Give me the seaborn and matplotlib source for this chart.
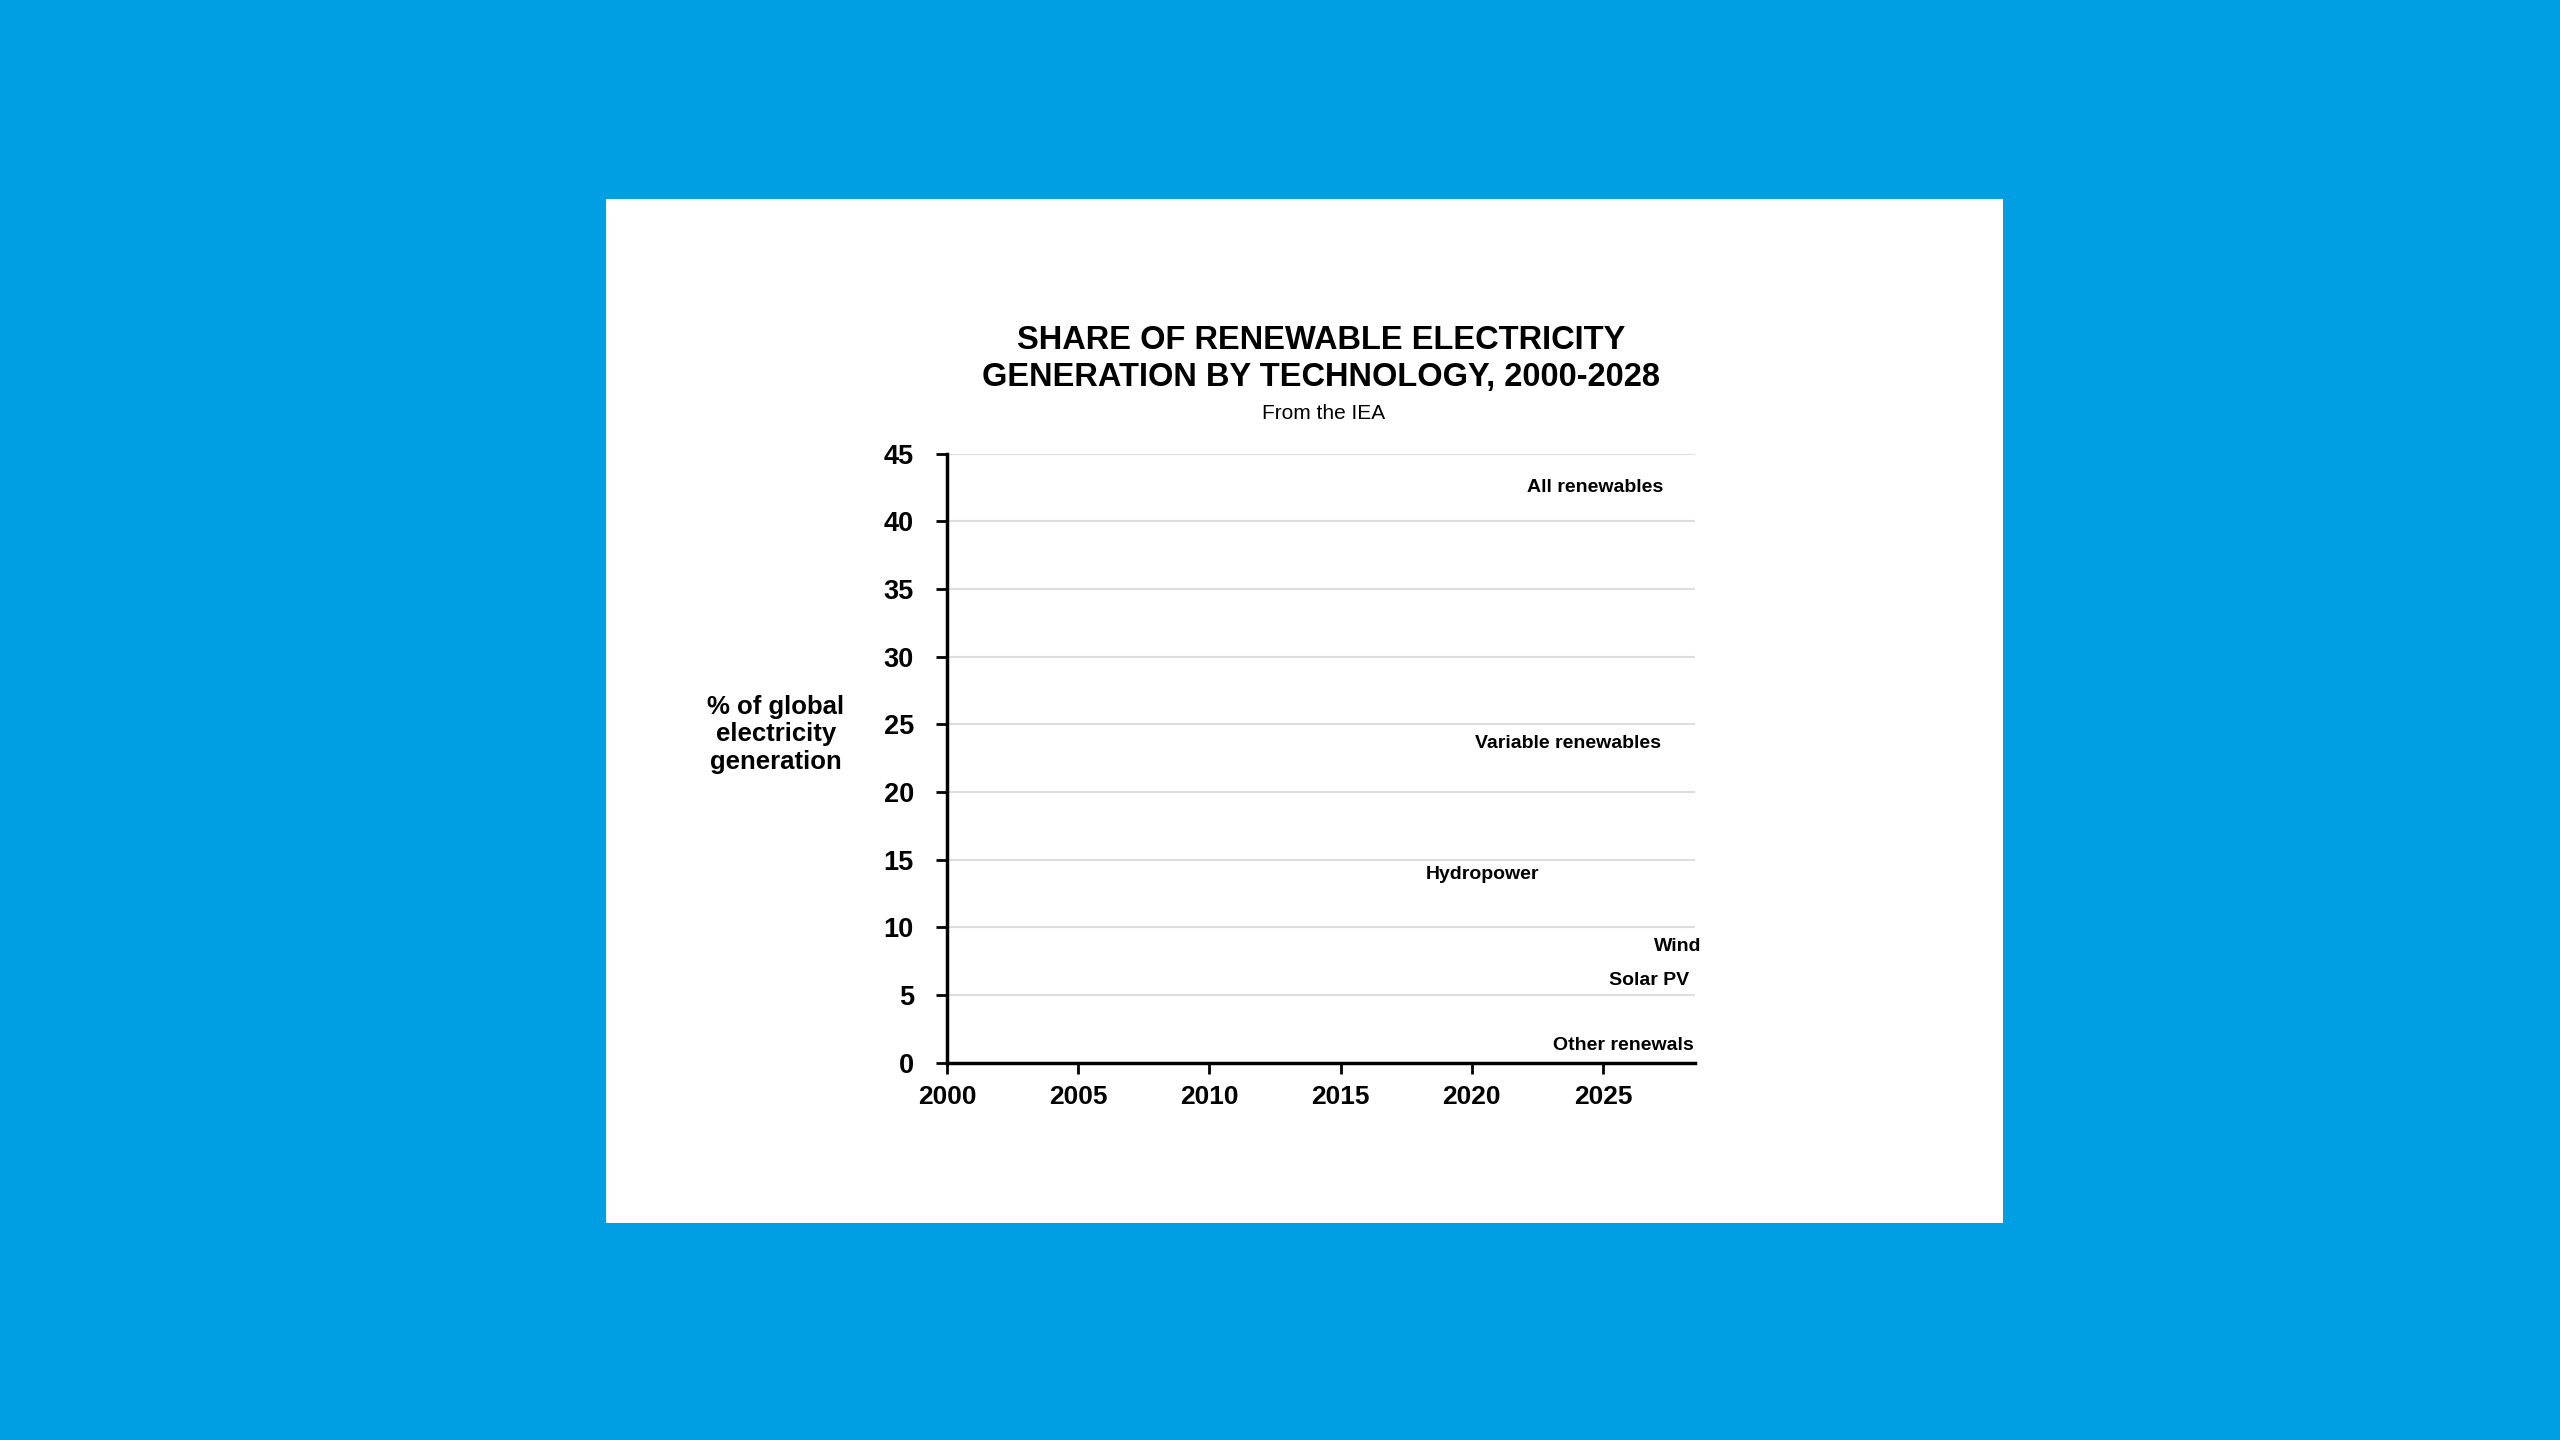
import numpy as np
import pandas as pd
import seaborn as sns
import matplotlib.pyplot as plt
from matplotlib.patches import Rectangle

# chart frame shown before the lines are drawn: only axes and end labels
years = [2000, 2005, 2010, 2015, 2020, 2025]
pct_ticks = [0, 5, 10, 15, 20, 25, 30, 35, 40, 45]

series_names = ['All renewables', 'Variable renewables', 'Hydropower',
                'Wind', 'Solar PV', 'Other renewals']
label_year = [2027.3, 2027.2, 2022.6, 2028.75, 2028.3, 2028.45]
label_pct = [42.5, 23.6, 13.9, 8.6, 6.1, 1.3]

title = 'SHARE OF RENEWABLE ELECTRICITY\nGENERATION BY TECHNOLOGY, 2000-2028'
subtitle = 'From the IEA'

sns.set_style('white')
plt.rcParams['font.family'] = ['Liberation Sans', 'DejaVu Sans']
plt.rcParams['text.color'] = 'black'
plt.rcParams['xtick.color'] = 'black'
plt.rcParams['ytick.color'] = 'black'
plt.rcParams['axes.labelcolor'] = 'black'

blue = '#009EE2'
fig = plt.figure(figsize=(25.6, 14.4), dpi=100)
fig.patch.set_facecolor(blue)
fig.patches.append(Rectangle((0.2367, 0.1507), 0.5457, 0.711,
                             transform=fig.transFigure, facecolor='white',
                             edgecolor='none', zorder=-5))

ax = fig.add_axes([0.370, 0.262, 0.292, 0.423])
ax.set_zorder(3)
ax.set_facecolor('none')

labels = pd.DataFrame({'name': series_names, 'year': label_year, 'pct': label_pct})

ax.set_xlim(2000, 2028.5)
ax.set_ylim(0, 45)
ax.set_xticks(years)
ax.set_yticks(pct_ticks)
ax.set_xticklabels([str(y) for y in years], fontsize=19, fontweight='bold')
ax.set_yticklabels([str(p) for p in pct_ticks], fontsize=19.5, fontweight='bold')
ax.tick_params(axis='both', direction='out', length=8, width=2, color='black')
ax.tick_params(axis='x', bottom=True, pad=8)
ax.tick_params(axis='y', left=True, pad=16)
ax.grid(axis='y', color='#dddddd', linewidth=1.5)
ax.grid(axis='x', visible=False)
sns.despine(ax=ax)
for side in ['left', 'bottom']:
    ax.spines[side].set_color('black')
    ax.spines[side].set_linewidth(2.5)

for _, row in labels.iterrows():
    ha = 'center' if row['name'] == 'Hydropower' else 'right'
    x = 2020.4 if row['name'] == 'Hydropower' else row['year']
    ax.text(x, row['pct'], row['name'], ha=ha, va='center', fontsize=14,
            fontweight='bold', color='black')

ax.set_ylabel('% of global\nelectricity\ngeneration', rotation=0, fontsize=18.5,
              fontweight='bold', ha='center', va='center', labelpad=0,
              linespacing=1.2)
ax.yaxis.set_label_coords(-0.229, 0.539)

fig.text(0.516, 0.774, title, ha='center', va='top', fontsize=23.5,
         fontweight='bold', linespacing=1.25)
fig.text(0.517, 0.713, subtitle, ha='center', va='center', fontsize=15)

fig.savefig('out.png', dpi=100, facecolor=blue)
